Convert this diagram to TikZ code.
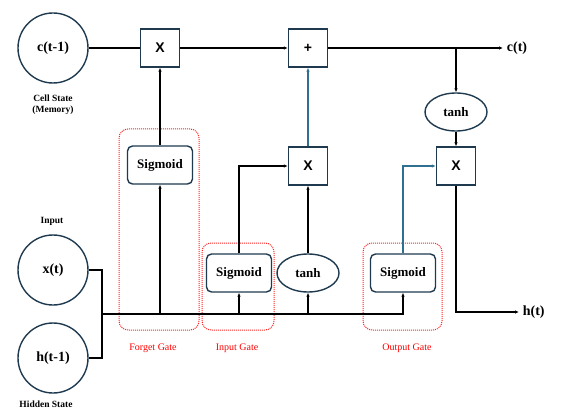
\documentclass[tikz,border=0pt]{standalone}
\usepackage{fontspec}
\setmainfont{Liberation Serif}
\newfontfamily\opfont{Liberation Sans}
\usetikzlibrary{arrows.meta,shapes.geometric}
\definecolor{edge}{HTML}{1F3A4F}
\definecolor{blueline}{HTML}{2F7090}
\begin{document}
\begin{tikzpicture}[x=1pt, y=-1pt, line width=1.1pt,
  state/.style={circle, draw=edge, line width=1.4pt, minimum size=70pt, inner sep=0pt, font=\bfseries\fontsize{14}{16}\selectfont},
  op/.style={rectangle, draw=edge, line width=1.4pt, minimum width=39pt, minimum height=38pt, font=\opfont\bfseries\fontsize{14}{16}\selectfont},
  act/.style={rectangle, rounded corners=5pt, draw=edge, line width=1.4pt, minimum width=65pt, minimum height=38pt, font=\bfseries\fontsize{13}{15}\selectfont},
  squash/.style={ellipse, draw=edge, line width=1.4pt, minimum width=62pt, minimum height=38pt, inner sep=0pt, font=\bfseries\fontsize{13}{15}\selectfont},
  gate/.style={draw=red!85, densely dotted, line width=1pt, rounded corners=9pt},
  gate label/.style={text=red, font=\fontsize{10}{12}\selectfont},
  caption/.style={font=\bfseries\fontsize{9.5}{11}\selectfont, align=center},
  flow/.style={-{Latex[length=4pt,width=3.5pt]}},
  hflow/.style={flow, draw=blueline},
]
  \useasboundingbox (0,0) rectangle (565,417);
  % inputs
  \node[state] (cprev) at (53,48) {c(t-1)};
  \node[state] (xt) at (53,270) {x(t)};
  \node[state] (hprev) at (53,358) {h(t-1)};
  \node[caption] (cellcap) at (53,105) {Cell State\\(Memory)};
  \node[caption] (incap) at (52,221) {Input};
  \node[caption] (hidcap) at (46,404) {Hidden State};
  % gates
  \draw[gate] (119,129) rectangle (199,330);
  \draw[gate] (202,243) rectangle (274,330);
  \draw[gate] (363,243) rectangle (442,330);
  \node[gate label] (fgate) at (153,348) {Forget Gate};
  \node[gate label] (igate) at (237,348) {Input Gate};
  \node[gate label] (ogate) at (407,348) {Output Gate};
  % cell
  \node[op] (fx) at (160,48) {X};
  \node[op] (add) at (308,48) {+};
  \node[op] (ix) at (308,166) {X};
  \node[op] (ox) at (456,166) {X};
  \node[act] (fs) at (160,165) {Sigmoid};
  \node[act] (is) at (239,273) {Sigmoid};
  \node[act] (os) at (403,273) {Sigmoid};
  \node[squash] (it) at (308,273) {tanh};
  \node[squash] (ot) at (456,112) {tanh};
  \node[anchor=west, font=\bfseries\fontsize{14}{16}\selectfont] (ct) at (503,48) {c(t)};
  \node[anchor=west, font=\bfseries\fontsize{14}{16}\selectfont] (ht) at (519,312) {h(t)};
  \coordinate (bus) at (102,314);
  \coordinate (split) at (456,48);
  % connections
  \draw (cprev) -- (fx);
  \draw[flow] (fx) -- (add);
  \draw[flow] (add) -- (ct.west);
  \draw[flow] (split) -- (ot);
  \draw[flow] (ot) -- (ox);
  \draw[flow] (ox.south) |- (ht.west);
  \draw (xt.east) -| (bus) |- (hprev.east);
  \draw[flow] (bus) -| (os.south);
  \draw[flow] (fs.south |- bus) -- (fs.south);
  \draw[flow] (is.south |- bus) -- (is.south);
  \draw[flow] (it.south |- bus) -- (it.south);
  \draw[flow] (fs) -- (fx);
  \draw[flow] (is.north) |- (ix.west);
  \draw[flow] (it) -- (ix);
  \draw[hflow] (ix) -- (add);
  \draw[hflow] (os.north) |- (ox.west);
\end{tikzpicture}
\end{document}
